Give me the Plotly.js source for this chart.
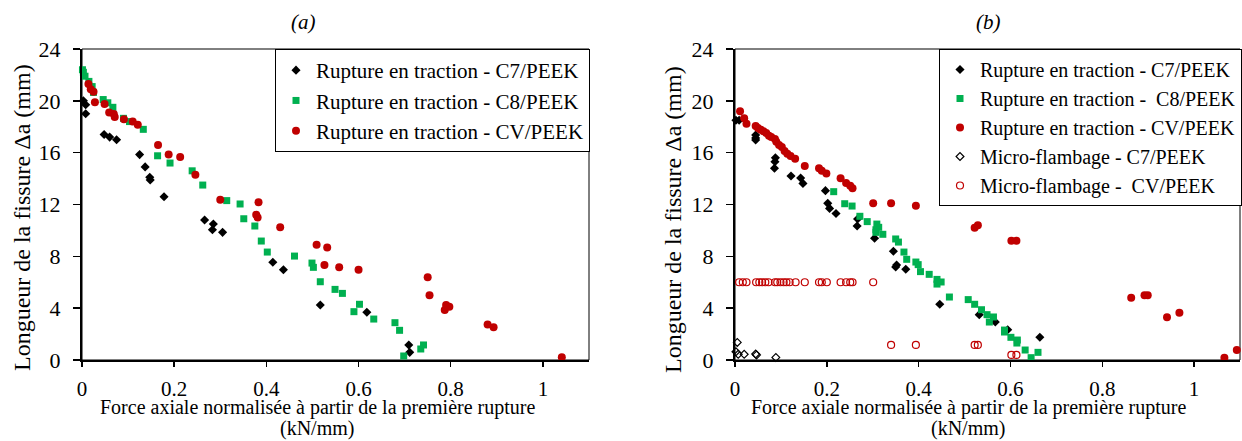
<!DOCTYPE html>
<html>
<head>
<meta charset="utf-8">
<script src="https://cdn.plot.ly/plotly-3.0.1.min.js"></script>
<style>html,body{margin:0;padding:0;background:#fff;}#chart{width:1242px;height:441px;}</style>
</head>
<body>
<div id="chart"></div>
<script>
// ---- Panel (a) data ----
var xA_C7 = [0.003,0.008,0.008,0.048,0.06,0.075,0.125,0.137,0.147,0.148,0.178,0.266,0.285,0.283,0.305,0.414,0.437,0.517,0.618,0.709,0.711];
var yA_C7 = [20.0,19.7,19.0,17.4,17.2,17.0,15.85,14.9,14.1,13.9,12.6,10.8,10.5,10.05,9.85,7.54,6.97,4.24,3.68,1.16,0.59];

var xA_C8 = [0.001,0.003,0.0065,0.015,0.022,0.025,0.046,0.056,0.067,0.09,0.103,0.133,0.164,0.191,0.239,0.262,0.314,0.343,0.351,0.375,0.389,0.402,0.461,0.499,0.502,0.517,0.549,0.565,0.602,0.590,0.633,0.679,0.689,0.741,0.735,0.698];
var yA_C8 = [22.4,22.2,21.9,21.5,21.1,20.65,20.1,19.85,19.5,18.65,18.4,17.8,15.76,15.2,14.6,13.5,12.3,12.04,10.9,10.34,9.18,8.33,8.02,7.48,7.15,6.04,5.45,5.14,4.3,3.73,3.16,2.88,2.29,1.16,0.85,0.31];

var xA_CV = [0.014,0.019,0.025,0.028,0.049,0.059,0.069,0.071,0.091,0.11,0.121,0.165,0.188,0.213,0.246,0.30,0.383,0.378,0.381,0.43,0.509,0.532,0.526,0.558,0.60,0.75,0.754,0.79,0.797,0.787,0.88,0.893,1.041];
var yA_CV = [21.3,20.9,20.7,19.9,19.75,19.1,18.98,18.75,18.57,18.4,18.15,16.6,15.85,15.66,14.3,12.37,12.17,11.2,11.0,10.24,8.9,8.69,7.33,7.15,6.97,6.38,5.0,4.24,4.1,3.86,2.73,2.52,0.21];

// ---- Panel (b) data ----
var xB_C7 = [0.002,0.009,0.045,0.045,0.045,0.088,0.087,0.086,0.122,0.143,0.148,0.197,0.202,0.206,0.22,0.267,0.266,0.304,0.345,0.352,0.350,0.372,0.446,0.532,0.567,0.594,0.664];
var yB_C7 = [18.5,18.5,17.36,17.13,16.98,15.6,15.3,14.8,14.2,14.04,13.63,13.07,12.09,11.7,11.3,10.88,10.34,9.39,8.39,7.33,7.18,7.0,4.3,3.5,2.93,2.34,1.75];

var xB_C8 = [0.215,0.239,0.255,0.272,0.288,0.309,0.313,0.307,0.307,0.322,0.35,0.356,0.368,0.374,0.394,0.399,0.404,0.423,0.44,0.449,0.44,0.467,0.508,0.522,0.537,0.549,0.563,0.554,0.587,0.587,0.601,0.615,0.614,0.632,0.645,0.66];
var yB_C8 = [12.99,12.06,11.88,11.09,10.68,10.49,10.24,10.05,9.85,9.7,9.34,9.1,8.33,7.77,7.56,7.36,6.82,6.61,6.22,6.02,5.86,4.86,4.66,4.3,3.88,3.5,3.32,2.93,2.31,2.16,1.75,1.54,1.31,0.77,0.18,0.59];

var xB_CV = [0.011,0.02,0.025,0.045,0.05,0.056,0.062,0.068,0.074,0.079,0.087,0.09,0.096,0.102,0.108,0.114,0.121,0.131,0.152,0.183,0.189,0.199,0.23,0.242,0.251,0.256,0.301,0.34,0.394,0.522,0.529,0.602,0.613,0.863,0.892,0.899,0.941,0.968,1.066,1.093];
var yB_CV = [19.19,18.65,18.24,18.06,17.9,17.77,17.65,17.52,17.31,17.2,17.05,16.85,16.6,16.43,16.13,15.92,15.74,15.53,14.97,14.79,14.61,14.4,14.02,13.66,13.45,13.25,12.09,12.09,11.9,10.21,10.39,9.21,9.21,4.81,4.99,4.99,3.29,3.65,0.18,0.77];

var xB_MC7 = [0.005,0.002,0.007,0.02,0.045,0.047,0.089];
var yB_MC7 = [1.36,0.64,0.44,0.44,0.46,0.39,0.2];

var xB_MCV = [0.009,0.017,0.025,0.046,0.053,0.059,0.066,0.073,0.087,0.092,0.099,0.106,0.112,0.119,0.132,0.152,0.183,0.189,0.2,0.23,0.242,0.251,0.256,0.301,0.34,0.394,0.522,0.529,0.602,0.613];
var yB_MCV = [6,6,6,6,6,6,6,6,6,6,6,6,6,6,6,6,6,6,6,6,6,6,6,6,1.16,1.16,1.16,1.16,0.39,0.39];

var xTickVals = [0,0.2,0.4,0.6,0.8,1];
var xTickText = ['0','0.2','0.4','0.6','0.8','1'];
var yTickVals = [0,4,8,12,16,20,24];

var namesA = ['Rupture en traction - C7/PEEK','Rupture en traction - C8/PEEK','Rupture en traction - CV/PEEK'];
var namesB = ['Rupture en traction - C7/PEEK','Rupture en traction - \u00a0C8/PEEK','Rupture en traction - CV/PEEK','Micro-flambage - C7/PEEK','Micro-flambage - \u00a0CV/PEEK'];

var BLACK = '#000000', GREEN = '#00B050', RED = '#C00000';

function sc(x, y, name, sym, size, color, xa, ya, leg, lineW) {
  var m = {symbol: sym, size: size, color: color};
  if (lineW) m.line = {color: color, width: lineW};
  return {type: 'scatter', mode: 'markers', x: x, y: y, name: name, xaxis: xa, yaxis: ya,
          legend: leg, marker: m, cliponaxis: false};
}

var data = [
  sc(xA_C7, yA_C7, namesA[0], 'diamond', 7, BLACK, 'x', 'y', 'legend'),
  sc(xA_C8, yA_C8, namesA[1], 'square', 7, GREEN, 'x', 'y', 'legend'),
  sc(xA_CV, yA_CV, namesA[2], 'circle', 8, RED, 'x', 'y', 'legend'),
  sc(xB_C7, yB_C7, namesB[0], 'diamond', 7, BLACK, 'x2', 'y2', 'legend2'),
  sc(xB_C8, yB_C8, namesB[1], 'square', 7, GREEN, 'x2', 'y2', 'legend2'),
  sc(xB_CV, yB_CV, namesB[2], 'circle', 8, RED, 'x2', 'y2', 'legend2'),
  sc(xB_MC7, yB_MC7, namesB[3], 'diamond-open', 6, BLACK, 'x2', 'y2', 'legend2', 1.2),
  sc(xB_MCV, yB_MCV, namesB[4], 'circle-open', 7, RED, 'x2', 'y2', 'legend2', 1.2)
];

var FONT = "'Liberation Serif', serif";

function xax(dom, anchor) {
  return {domain: dom, anchor: anchor, range: [0, 1.1], tickvals: xTickVals, ticktext: xTickText,
          ticks: 'outside', ticklen: 5, tickwidth: 1.5, tickcolor: BLACK,
          showline: true, linewidth: 2, linecolor: BLACK, mirror: false,
          showgrid: false, zeroline: false, ticklabelstandoff: 4,
          tickfont: {family: FONT, size: 21, color: BLACK}};
}
function yax(anchor) {
  return {domain: [0, 1], anchor: anchor, range: [0, 24], tickvals: yTickVals,
          ticks: 'outside', ticklen: 7, tickwidth: 1.5, tickcolor: BLACK,
          showline: true, linewidth: 2, linecolor: BLACK, mirror: false,
          showgrid: false, zeroline: false, ticklabelstandoff: 8,
          tickfont: {family: FONT, size: 22, color: BLACK}};
}

var W = 1242, PB = 360, PH = 311;
function px(v) { return v / W; }
function py(v) { return (PB - v) / PH; }

var headFont = {family: FONT, size: 21, color: BLACK};
var yTitleFont = {family: FONT, size: 24, color: BLACK};
var xTitleFont = {family: FONT, size: 20, color: BLACK};

function ann(text, x, y, font, angle) {
  var a = {text: text, xref: 'paper', yref: 'paper', x: px(x), y: py(y), xanchor: 'center', yanchor: 'middle',
           showarrow: false, font: font};
  if (angle) a.textangle = angle;
  return a;
}

var layout = {
  width: 1242, height: 441,
  margin: {l: 0, r: 0, t: 49, b: 81},
  paper_bgcolor: '#ffffff', plot_bgcolor: '#ffffff',
  font: {family: FONT, size: 20, color: BLACK},
  showlegend: true,
  xaxis: xax([px(82), px(589)], 'y'),
  yaxis: yax('x'),
  xaxis2: xax([px(735), px(1240)], 'y2'),
  yaxis2: yax('x2'),
  legend: {x: px(590), xanchor: 'right', y: 1, yanchor: 'top', bgcolor: '#ffffff',
           bordercolor: BLACK, borderwidth: 1, font: {family: FONT, size: 21, color: BLACK},
           tracegroupgap: 0, itemclick: false},
  legend2: {x: 1, xanchor: 'right', y: 1, yanchor: 'top', bgcolor: '#ffffff',
            bordercolor: BLACK, borderwidth: 1, font: {family: FONT, size: 20, color: BLACK},
            tracegroupgap: 0, itemclick: false},
  shapes: [
    {type: 'rect', xref: 'x domain', yref: 'y domain', x0: 0, x1: 1, y0: 0, y1: 1,
     line: {color: BLACK, width: 1}, layer: 'below'},
    {type: 'rect', xref: 'x2 domain', yref: 'y2 domain', x0: 0, x1: 1, y0: 0, y1: 1,
     line: {color: BLACK, width: 1}, layer: 'below'}
  ],
  annotations: [
    ann('<i>(a)</i>', 303, 22, headFont),
    ann('<i>(b)</i>', 988, 22, headFont),
    ann('Longueur de la fissure \u0394a (mm)', 22, 218, yTitleFont, -90),
    ann('Longueur de la fissure \u0394a (mm)', 673, 220, yTitleFont, -90),
    ann('Force axiale normalisée à partir de la première rupture', 317, 407, xTitleFont),
    ann('(kN/mm)', 317, 428, xTitleFont),
    ann('Force axiale normalisée à partir de la première rupture', 968, 407, xTitleFont),
    ann('(kN/mm)', 968, 428, xTitleFont)
  ]
};

Plotly.newPlot('chart', data, layout, {displayModeBar: false, staticPlot: true});
</script>
</body>
</html>
